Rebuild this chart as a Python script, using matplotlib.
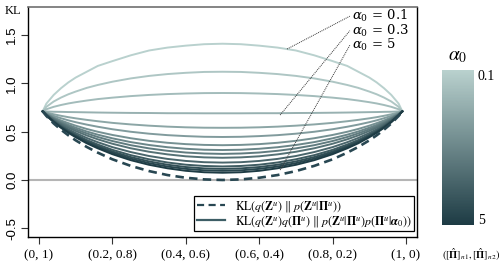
import matplotlib
matplotlib.use("Agg")
import matplotlib.pyplot as plt
from matplotlib.colors import LinearSegmentedColormap, Normalize
from matplotlib.cm import ScalarMappable

plt.rcParams["mathtext.fontset"] = "stix"
plt.rcParams["font.family"] = ["Liberation Serif", "DejaVu Serif"]

# share of the first class in Pi-hat
p_grid = [0.01, 0.02, 0.04, 0.06, 0.08, 0.10, 0.13, 0.16, 0.20, 0.25, 0.30, 0.35, 0.40, 0.45, 0.50,
          0.55, 0.60, 0.65, 0.70, 0.75, 0.80, 0.84, 0.87, 0.90, 0.92, 0.94, 0.96, 0.98, 0.99]
alpha0 = [0.1, 0.15, 0.2, 0.3, 0.4, 0.5, 0.7, 0.9, 1.2, 1.5, 2, 2.5, 3, 4, 5]

# KL(q(Z)q(Pi) || p(Z|Pi)p(Pi|alpha0)), one row per alpha0
kl_total = [
    [0.71, 0.79, 0.88, 0.95, 1.01, 1.06, 1.12, 1.18, 1.23, 1.29, 1.34, 1.37, 1.39, 1.405, 1.41,
     1.405, 1.39, 1.37, 1.34, 1.29, 1.23, 1.18, 1.12, 1.06, 1.01, 0.95, 0.88, 0.79, 0.71],
    [0.71, 0.757, 0.812, 0.853, 0.887, 0.915, 0.953, 0.983, 1.017, 1.051, 1.077, 1.096, 1.109, 1.118, 1.12,
     1.118, 1.109, 1.096, 1.077, 1.051, 1.017, 0.983, 0.953, 0.915, 0.887, 0.853, 0.812, 0.757, 0.71],
    [0.71, 0.732, 0.757, 0.776, 0.792, 0.805, 0.822, 0.837, 0.852, 0.868, 0.880, 0.889, 0.895, 0.899, 0.90,
     0.899, 0.895, 0.889, 0.880, 0.868, 0.852, 0.837, 0.822, 0.805, 0.792, 0.776, 0.757, 0.732, 0.71],
    [0.71, 0.709, 0.706, 0.705, 0.703, 0.702, 0.700, 0.698, 0.696, 0.694, 0.693, 0.691, 0.691, 0.690, 0.69,
     0.690, 0.691, 0.691, 0.693, 0.694, 0.696, 0.698, 0.700, 0.702, 0.703, 0.705, 0.706, 0.709, 0.71],
    [0.71, 0.699, 0.680, 0.664, 0.650, 0.638, 0.622, 0.608, 0.591, 0.575, 0.562, 0.552, 0.545, 0.541, 0.54,
     0.541, 0.545, 0.552, 0.562, 0.575, 0.591, 0.608, 0.622, 0.638, 0.650, 0.664, 0.680, 0.699, 0.71],
    [0.71, 0.693, 0.663, 0.639, 0.617, 0.598, 0.573, 0.551, 0.525, 0.499, 0.479, 0.464, 0.454, 0.447, 0.445,
     0.447, 0.454, 0.464, 0.479, 0.499, 0.525, 0.551, 0.573, 0.598, 0.617, 0.639, 0.663, 0.693, 0.71],
    [0.71, 0.687, 0.648, 0.616, 0.588, 0.562, 0.528, 0.499, 0.466, 0.432, 0.405, 0.385, 0.371, 0.363, 0.36,
     0.363, 0.371, 0.385, 0.405, 0.432, 0.466, 0.499, 0.528, 0.562, 0.588, 0.616, 0.648, 0.687, 0.71],
    [0.71, 0.684, 0.640, 0.603, 0.570, 0.541, 0.502, 0.469, 0.431, 0.392, 0.362, 0.339, 0.323, 0.313, 0.31,
     0.313, 0.323, 0.339, 0.362, 0.392, 0.431, 0.469, 0.502, 0.541, 0.570, 0.603, 0.640, 0.684, 0.71],
    [0.71, 0.681, 0.633, 0.592, 0.556, 0.524, 0.482, 0.445, 0.403, 0.360, 0.327, 0.302, 0.284, 0.274, 0.27,
     0.274, 0.284, 0.302, 0.327, 0.360, 0.403, 0.445, 0.482, 0.524, 0.556, 0.592, 0.633, 0.681, 0.71],
    [0.71, 0.678, 0.626, 0.581, 0.542, 0.507, 0.461, 0.421, 0.375, 0.328, 0.292, 0.265, 0.245, 0.234, 0.23,
     0.234, 0.245, 0.265, 0.292, 0.328, 0.375, 0.421, 0.461, 0.507, 0.542, 0.581, 0.626, 0.678, 0.71],
    [0.71, 0.675, 0.617, 0.568, 0.525, 0.486, 0.435, 0.391, 0.340, 0.289, 0.248, 0.218, 0.197, 0.184, 0.18,
     0.184, 0.197, 0.218, 0.248, 0.289, 0.340, 0.391, 0.435, 0.486, 0.525, 0.568, 0.617, 0.675, 0.71],
    [0.71, 0.672, 0.610, 0.557, 0.511, 0.470, 0.414, 0.367, 0.312, 0.257, 0.214, 0.181, 0.158, 0.145, 0.14,
     0.145, 0.158, 0.181, 0.214, 0.257, 0.312, 0.367, 0.414, 0.470, 0.511, 0.557, 0.610, 0.672, 0.71],
    [0.71, 0.671, 0.605, 0.551, 0.502, 0.459, 0.401, 0.352, 0.295, 0.237, 0.192, 0.158, 0.134, 0.120, 0.115,
     0.120, 0.134, 0.158, 0.192, 0.237, 0.295, 0.352, 0.401, 0.459, 0.502, 0.551, 0.605, 0.671, 0.71],
    [0.71, 0.669, 0.602, 0.545, 0.495, 0.451, 0.391, 0.340, 0.281, 0.221, 0.174, 0.139, 0.115, 0.100, 0.095,
     0.100, 0.115, 0.139, 0.174, 0.221, 0.281, 0.340, 0.391, 0.451, 0.495, 0.545, 0.602, 0.669, 0.71],
    [0.71, 0.668, 0.598, 0.540, 0.488, 0.442, 0.380, 0.328, 0.267, 0.205, 0.157, 0.121, 0.095, 0.080, 0.075,
     0.080, 0.095, 0.121, 0.157, 0.205, 0.267, 0.328, 0.380, 0.442, 0.488, 0.540, 0.598, 0.668, 0.71],
]
# KL(q(Z) || p(Z|Pi))
kl_z = [0.71, 0.663, 0.585, 0.520, 0.462, 0.410, 0.342, 0.283, 0.214, 0.146, 0.092, 0.051, 0.023, 0.006, 0.0,
        0.006, 0.023, 0.051, 0.092, 0.146, 0.214, 0.283, 0.342, 0.410, 0.462, 0.520, 0.585, 0.663, 0.71]

xticks = [0, 0.2, 0.4, 0.6, 0.8, 1.0]
xticklabels = ["(0, 1)", "(0.2, 0.8)", "(0.4, 0.6)", "(0.6, 0.4)", "(0.8, 0.2)", "(1, 0)"]
yticks = [-0.5, 0.0, 0.5, 1.0, 1.5]
yticklabels = ["-0.5", "0.0", "0.5", "1.0", "1.5"]

W, H = 499, 266
fig = plt.figure(figsize=(W / 100, H / 100), dpi=100)
ax = fig.add_axes([28 / W, 1 - 237 / H, (417 - 28) / W, (237 - 7) / H])

cmap = LinearSegmentedColormap.from_list("teal", ["#b9d1ce", "#1d3b44"])
n = len(alpha0)

ax.axhline(0, color="#b5b5b5", lw=1.5, zorder=1)
for i, row in enumerate(kl_total):
    ax.plot(p_grid, row, color=cmap(i / (n - 1)), lw=1.4, zorder=2)
ax.plot(p_grid, kl_z, color="#284752", lw=1.9, ls=(0, (3.2, 2.0)), zorder=3)

ax.set_xlim(-0.03, 1.03)
ax.set_ylim(-0.59, 1.79)
ax.set_xticks(xticks)
ax.set_xticklabels(xticklabels, fontsize=9.5)
ax.set_yticks(yticks)
ax.set_yticklabels(yticklabels, rotation=90, va="center", fontsize=9.5, family="Liberation Sans")
ax.tick_params(axis="both", direction="out", length=5, width=0.8, color="#333333")
ax.tick_params(axis="x", pad=4)
ax.tick_params(axis="y", pad=2)
for s in ["left", "bottom", "right"]:
    ax.spines[s].set_color("black")
    ax.spines[s].set_linewidth(1.0)
ax.spines["top"].set_color("#707070")
ax.spines["top"].set_linewidth(1.2)

# leader lines and labels
ann = [
    ("$\\alpha_0$ = 0.1", (0.676, 1.355), (0.847, 1.695)),
    ("$\\alpha_0$ = 0.3", (0.657, 0.672), (0.847, 1.545)),
    ("$\\alpha_0$ = 5", (0.657, 0.103), (0.847, 1.395)),
]
for label, (x0, y0), (x1, y1) in ann:
    ax.plot([x0, x1], [y0, y1], color="#333333", lw=0.7, ls=(0, (1, 1)), zorder=4)
    ax.text(x1 + 0.006, y1, label, fontsize=9.5, ha="left", va="center",
            family="DejaVu Serif", math_fontfamily="dejavuserif")

leg = ax.legend(
    [
        plt.Line2D([], [], color="#284752", lw=1.6, ls=(0, (3.2, 2.0))),
        plt.Line2D([], [], color="#3d5e66", lw=1.6),
    ],
    [
        r"$\mathrm{KL}(q(\mathbf{Z}^u)\ \Vert\ p(\mathbf{Z}^u|\mathbf{\Pi}^u))$",
        r"$\mathrm{KL}(q(\mathbf{Z}^u)q(\mathbf{\Pi}^u)\ \Vert\ p(\mathbf{Z}^u|\mathbf{\Pi}^u)p(\mathbf{\Pi}^u|\boldsymbol{\alpha}_0))$",
    ],
    loc="lower right",
    bbox_to_anchor=(0.992, 0.026),
    borderaxespad=0,
    fontsize=8.6,
    fancybox=False,
    framealpha=1,
    edgecolor="black",
    handlelength=2.4,
    borderpad=0.2,
    labelspacing=0.0,
    handletextpad=0.8,
)
leg.get_frame().set_linewidth(0.9)

fig.text(5 / W, 1 - 11 / H, "KL", fontsize=9, ha="left", va="center")
fig.text(442 / W, 1 - 255 / H, r"$([\hat{\mathbf{\Pi}}]_{n1},[\hat{\mathbf{\Pi}}]_{n2})$",
         fontsize=7.5, ha="left", va="center")

# colour bar for alpha0
cax = fig.add_axes([442 / W, 1 - 225 / H, 32 / W, 155 / H])
sm = ScalarMappable(norm=Normalize(0, n - 1), cmap=cmap)
cb = fig.colorbar(sm, cax=cax)
cb.outline.set_visible(False)
cb.set_ticks([])
cax.invert_yaxis()
fig.text(478 / W, 1 - 76 / H, str(alpha0[0]), fontsize=10, ha="left", va="center")
fig.text(478 / W, 1 - 221 / H, str(alpha0[-1]), fontsize=10, ha="left", va="center")
fig.text(458 / W, 1 - 56 / H, r"$\alpha_0$", fontsize=14, ha="center", va="center")

fig.savefig("out.png", dpi=100)
